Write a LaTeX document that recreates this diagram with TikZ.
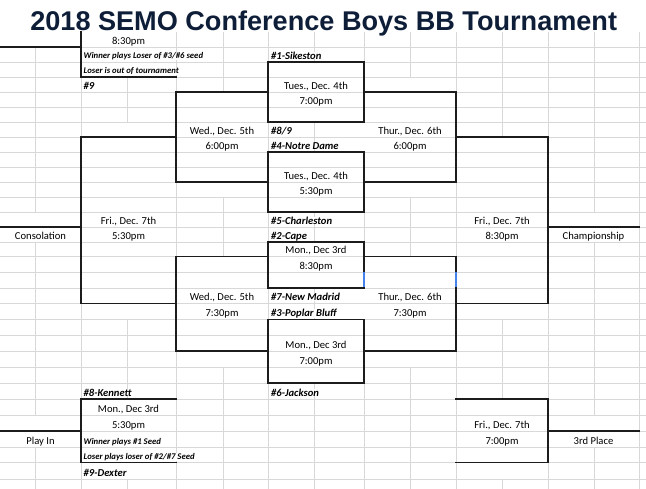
\documentclass[tikz,border=0pt]{standalone}
\usepackage{fontspec}
\setmainfont{Carlito}
\newfontfamily\titlefont{Liberation Sans}
\definecolor{gridgray}{RGB}{216,216,216}
\definecolor{titlenavy}{RGB}{14,30,56}
\definecolor{linedark}{RGB}{28,28,28}
\definecolor{selblue}{RGB}{70,130,235}
\tikzset{
  gridline/.style={draw=gridgray, line width=0.8pt},
  bracket/.style={draw=linedark, line width=1.4pt, line join=miter, line cap=rect},
  datetxt/.style={font=\fontsize{10.6}{12}\selectfont, anchor=base, fill=white, inner xsep=0.8pt, inner ysep=0pt},
  teamlbl/.style={font=\fontsize{10.6}{12}\selectfont\bfseries\itshape, anchor=base west, fill=white, inner xsep=0.5pt, inner ysep=0pt},
  notelbl/.style={font=\fontsize{8.7}{10}\selectfont\bfseries\itshape, anchor=base west, fill=white, inner xsep=0.5pt, inner ysep=0pt},
  titlelbl/.style={font=\titlefont\bfseries\fontsize{27.1}{30}\selectfont, text=titlenavy, anchor=base, inner sep=0pt}
}
\begin{document}
\begin{tikzpicture}[x=1pt,y=-1pt]
\useasboundingbox (0,0) rectangle (646,489);
\fill[white] (0,0) rectangle (646,489);

% vertical grid lines (visible parts)
\foreach \x/\a/\b in {35/47/212, 35/242/415, 35/447/489,
  81/77/489,
  127/77/122, 127/319.5/399, 127/479/489,
  176/32/489,
  223/32/92, 223/197/256.5, 223/367/489,
  268/32/489,
  314/32/62, 314/122/152, 314/212/242, 314/288/319.5, 314/383/489,
  364/32/62, 364/212/242, 364/383/489,
  410/32/77, 410/197/256.5, 410/367/489,
  456/32/489,
  502/32/137, 502/319.5/399, 502/479/489,
  548/32/489,
  594/32/212, 594/242/415, 594/447/489,
  639/32/489}
  \draw[gridline] (\x,\a) -- (\x,\b);

% texts
\node[titlelbl] (title) at (323.7,30.5) {2018 SEMO Conference Boys BB Tournament};

\node[datetxt] (pa) at (128.5,44.2) {8:30pm};
\node[notelbl] (pb) at (83,59) {Winner plays Loser of \#3/\#6 seed};
\node[notelbl] (pc) at (83,74) {Loser is out of tournament};
\node[teamlbl] (pd) at (83,89.2) {\#9};

\node[teamlbl] (s1) at (270.5,59.2) {\#1-Sikeston};
\node[datetxt] (g1a) at (316,89.2) {Tues., Dec. 4th};
\node[datetxt] (g1b) at (316,104.2) {7:00pm};
\node[teamlbl] (s89) at (270.5,134.2) {\#8/9};
\node[teamlbl] (s4) at (270.5,149.2) {\#4-Notre Dame};
\node[datetxt] (g2a) at (316,179.2) {Tues., Dec. 4th};
\node[datetxt] (g2b) at (316,194.2) {5:30pm};
\node[teamlbl] (s5) at (270.5,224.2) {\#5-Charleston};
\node[teamlbl] (s2) at (270.5,239.2) {\#2-Cape};
\node[datetxt] (g3a) at (316,253.7) {Mon., Dec 3rd};
\node[datetxt] (g3b) at (316,269.2) {8:30pm};
\node[teamlbl] (s7) at (270.5,300.7) {\#7-New Madrid};
\node[teamlbl] (s3) at (270.5,316.7) {\#3-Poplar Bluff};
\node[datetxt] (g4a) at (316,348.2) {Mon., Dec 3rd};
\node[datetxt] (g4b) at (316,364.2) {7:00pm};
\node[teamlbl] (s6) at (270.5,396.2) {\#6-Jackson};

\node[datetxt] (w1a) at (222,134.2) {Wed., Dec. 5th};
\node[datetxt] (w1b) at (222,149.2) {6:00pm};
\node[datetxt] (w2a) at (222,300.7) {Wed., Dec. 5th};
\node[datetxt] (w2b) at (222,316.7) {7:30pm};

\node[datetxt] (h1a) at (410,134.2) {Thur., Dec. 6th};
\node[datetxt] (h1b) at (410,149.2) {6:00pm};
\node[datetxt] (h2a) at (410,300.7) {Thur., Dec. 6th};
\node[datetxt] (h2b) at (410,316.7) {7:30pm};

\node[datetxt] (ca) at (128.5,224.2) {Fri., Dec. 7th};
\node[datetxt] (cb) at (128.5,239.2) {5:30pm};
\node[datetxt] (cl) at (40.5,239.2) {Consolation};

\node[datetxt] (fa) at (502,224.2) {Fri., Dec. 7th};
\node[datetxt] (fb) at (502,239.2) {8:30pm};
\node[datetxt] (fl) at (593.5,239.2) {Championship};

\node[teamlbl] (k8) at (83,396.2) {\#8-Kennett};
\node[datetxt] (qa) at (128.5,412.2) {Mon., Dec 3rd};
\node[datetxt] (qb) at (128.5,428.2) {5:30pm};
\node[notelbl] (qc) at (83,444) {Winner plays \#1 Seed};
\node[notelbl] (qd) at (83,459.5) {Loser plays loser of \#2/\#7 Seed};
\node[teamlbl] (d9) at (83,476) {\#9-Dexter};
\node[datetxt] (ql) at (40.5,444.2) {Play In};

\node[datetxt] (ra) at (502,428.2) {Fri., Dec. 7th};
\node[datetxt] (rb) at (502,444.2) {7:00pm};
\node[datetxt] (rl) at (593.5,444.2) {3rd Place};

% horizontal grid lines
\foreach \y in {47,62,77,92,107,122,137,152,167,182,197,212,227,242,256.5,272,288,303.5,319.5,335.5,351,367,383,399,415,431,447,462.5,479}
  \draw[gridline] (0,\y) -- (646,\y);

% bracket lines
\draw[bracket] (0,47) -- (81,47);
\draw[bracket] (81,32) -- (81,77) -- (176,77);

\draw[bracket] (268,62) rectangle (364,122);
\draw[bracket] (268,152) rectangle (364,212);
\draw[bracket] (268,242) rectangle (364,288);
\draw[bracket] (268,319.5) rectangle (364,383);

\draw[bracket] (268,92) -- (176,92) -- (176,182) -- (268,182);
\draw[bracket] (268,256.5) -- (176,256.5) -- (176,351) -- (268,351);
\draw[bracket] (176,137) -- (81,137) -- (81,303.5) -- (176,303.5);
\draw[bracket] (0,227) -- (81,227);

\draw[bracket] (364,92) -- (456,92) -- (456,182) -- (364,182);
\draw[bracket] (364,256.5) -- (456,256.5) -- (456,351) -- (364,351);
\draw[bracket] (456,137) -- (548,137) -- (548,303.5) -- (456,303.5);
\draw[bracket] (548,227) -- (639,227);

\draw[bracket] (176,399) -- (81,399) -- (81,462.5) -- (176,462.5);
\draw[bracket] (0,431) -- (81,431);
\draw[bracket] (456,399) -- (548,399) -- (548,462.5) -- (456,462.5);
\draw[bracket] (548,431) -- (639,431);

% selection marks
\draw[selblue, line width=1.3pt] (364,272.5) -- (364,287);
\draw[selblue, line width=1.3pt] (456,272.5) -- (456,287);
\end{tikzpicture}
\end{document}
